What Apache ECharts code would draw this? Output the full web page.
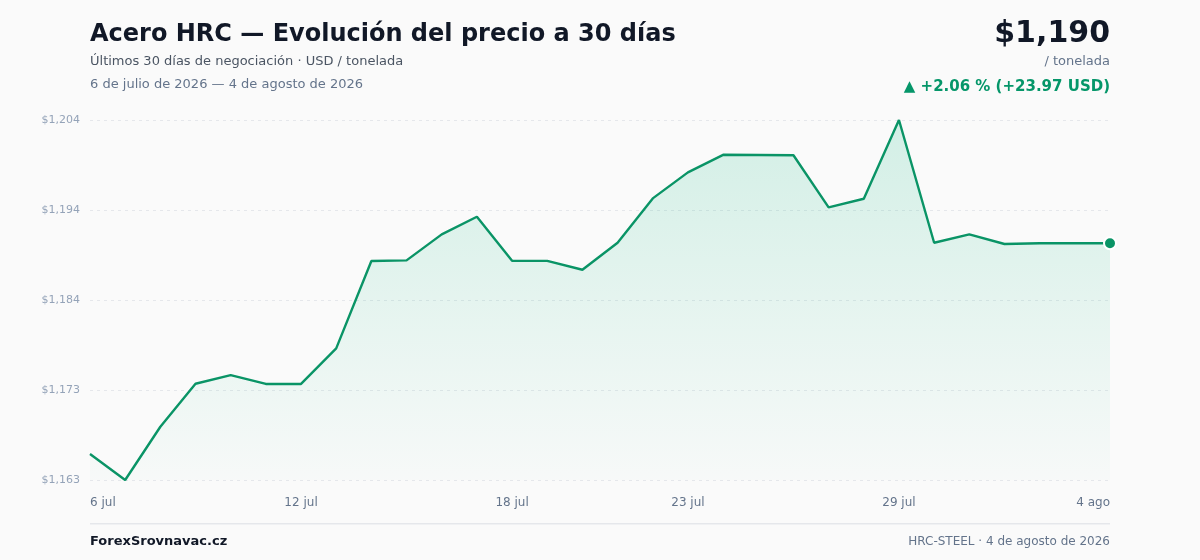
<!DOCTYPE html>
<html>
<head>
<meta charset="utf-8">
<script src="https://cdn.jsdelivr.net/npm/echarts@6/dist/echarts.min.js"></script>
<style>
html,body{margin:0;padding:0;background:#fafafa;}
#chart{width:1200px;height:560px;}
</style>
</head>
<body>
<div id="chart"></div>
<script>
const categories = ["6 jul","7 jul","8 jul","9 jul","10 jul","11 jul","12 jul","13 jul","14 jul","15 jul","16 jul","17 jul","18 jul","19 jul","20 jul","21 jul","22 jul","23 jul","24 jul","25 jul","26 jul","27 jul","28 jul","29 jul","30 jul","31 jul","1 ago","2 ago","3 ago","4 ago"];
const prices = [1166.03,1163.07,1169.13,1174.02,1175.01,1174.00,1174.00,1178.05,1187.98,1188.06,1191.02,1193.02,1188.02,1188.00,1186.99,1190.06,1195.11,1198.07,1200.07,1200.04,1200.02,1194.09,1195.07,1204.03,1190.06,1191.02,1189.92,1190.00,1190.01,1190.00];
const shownLabelIdx = [0,6,12,17,23,29];
const titleText = "Acero HRC — Evolución del precio a 30 días";
const subtitleText = "Últimos 30 días de negociación · USD / tonelada";
const rangeText = "6 de julio de 2026 — 4 de agosto de 2026";
const priceText = "$1,190";
const unitText = "/ tonelada";
const changeText = "▲ +2.06 % (+23.97 USD)";
const brandText = "ForexSrovnavac.cz";
const footerRight = "HRC-STEEL · 4 de agosto de 2026";

const yMin = Math.min(...prices);
const yMax = Math.max(...prices);
const yInterval = (yMax - yMin) / 4;

const FONT = "DejaVu Sans";
const chart = echarts.init(document.getElementById('chart'), null, {renderer:'canvas'});
const option = {
  backgroundColor: '#fafafa',
  animation: false,
  textStyle: {fontFamily: FONT},
  grid: {left: 90, right: 90, top: 120, bottom: 80, containLabel: false},
  xAxis: {
    type: 'category',
    data: categories,
    boundaryGap: false,
    axisLine: {show: false},
    axisTick: {show: false},
    splitLine: {show: false},
    axisLabel: {
      color: '#64748b', fontSize: 12, fontFamily: FONT, margin: 17,
      interval: (i) => shownLabelIdx.includes(i),
      alignMinLabel: 'left', alignMaxLabel: 'right'
    }
  },
  yAxis: {
    type: 'value',
    min: yMin, max: yMax, interval: yInterval,
    axisLine: {show: false},
    axisTick: {show: false},
    splitLine: {show: true, lineStyle: {color: '#e5e7eb', type: [3,4], width: 1}},
    axisLabel: {
      color: '#94a3b8', fontSize: 11, fontFamily: FONT, margin: 10,
      formatter: (v) => '$' + Math.round(v).toLocaleString('en-US')
    }
  },
  series: [{
    type: 'line',
    data: prices,
    symbol: 'none',
    lineStyle: {color: '#0a9466', width: 2.4},
    itemStyle: {color: '#0a9466'},
    areaStyle: {
      color: new echarts.graphic.LinearGradient(0,0,0,1,[
        {offset:0, color:'rgba(16,185,129,0.24)'},
        {offset:1, color:'rgba(16,185,129,0.02)'}
      ])
    },
    markPoint: {
      symbol: 'circle', symbolSize: 12,
      label: {show: false},
      itemStyle: {color: '#0a9466', borderColor: '#ffffff', borderWidth: 2},
      data: [{coord: [categories.length - 1, prices[prices.length - 1]]}]
    }
  }],
  graphic: [
    {type:'text', left: 90, top: 23, style:{text: titleText, font: 'bold 24px "DejaVu Sans"', fill:'#111827'}},
    {type:'text', left: 90, top: 55, style:{text: subtitleText, font: '13px "DejaVu Sans"', fill:'#4b5563'}},
    {type:'text', left: 90, top: 78, style:{text: rangeText, font: '13px "DejaVu Sans"', fill:'#64748b'}},
    {type:'text', right: 90, top: 19, style:{text: priceText, font: 'bold 30px "DejaVu Sans"', fill:'#111827'}},
    {type:'text', right: 90, top: 55, style:{text: unitText, font: '13px "DejaVu Sans"', fill:'#64748b'}},
    {type:'text', right: 90, top: 80, style:{text: changeText, font: 'bold 15px "DejaVu Sans"', fill:'#059669'}},
    {type:'rect', left: 90, top: 523, shape:{width:1020, height:1.5}, style:{fill:'#e5e7eb'}},
    {type:'text', left: 90, top: 535, style:{text: brandText, font: 'bold 13px "DejaVu Sans"', fill:'#111827'}},
    {type:'text', right: 90, top: 536, style:{text: footerRight, font: '12px "DejaVu Sans"', fill:'#64748b'}}
  ]
};
chart.setOption(option);
</script>
</body>
</html>
